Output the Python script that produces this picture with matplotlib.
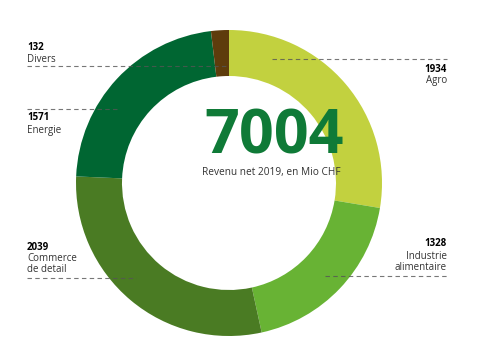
import matplotlib
matplotlib.use("Agg")
import matplotlib.pyplot as plt

categories = ["Agro", "Industrie alimentaire", "Commerce de detail", "Energie", "Divers"]
labels = ["Agro", "Industrie\nalimentaire", "Commerce\nde detail", "Energie", "Divers"]
values = [1934, 1328, 2039, 1571, 132]
colors = ["#c2d13f", "#68b334", "#4a7b23", "#006632", "#5e3c0c"]
total_text = "7004"
subtitle = "Revenu net 2019, en Mio CHF"

W, H = 479, 346
fig = plt.figure(figsize=(W / 100, H / 100), dpi=100)
ax = fig.add_axes([0, 0, 1, 1])
plt.rcParams['font.family'] = ['Open Sans', 'DejaVu Sans']

cx, cy, R = 229, H - 183, 153
ax.pie(values, colors=colors, center=(cx, cy), radius=R, startangle=90,
       counterclock=False, wedgeprops=dict(width=46, linewidth=0))
ax.set_xlim(0, W)
ax.set_ylim(0, H)
ax.set_aspect('equal')
ax.axis('off')

def Y(y):
    return H - y

dash = dict(color="#555555", lw=0.8, ls=(0, (4, 3)), zorder=5, alpha=0.8)
fs = 7
# Divers
ax.text(27, Y(47), str(values[4]), fontsize=fs, fontweight='bold', va='center', ha='left')
ax.text(27, Y(59), labels[4], fontsize=fs, va='center', ha='left', color="#333333")
ax.plot([27, 228], [Y(66), Y(66)], **dash)
# Energie
ax.plot([27, 120], [Y(109), Y(109)], **dash)
ax.text(27, Y(118), str(values[3]), fontsize=fs, fontweight='bold', va='center', ha='left')
ax.text(27, Y(130), labels[3], fontsize=fs, va='center', ha='left', color="#333333")
# Commerce
ax.text(27, Y(247), str(values[2]), fontsize=fs, fontweight='bold', va='center', ha='left')
ax.text(27, Y(264), labels[2], fontsize=fs, va='center', ha='left', color="#333333", linespacing=1.0)
ax.plot([27, 136], [Y(278), Y(278)], **dash)
# Agro
ax.plot([272, 447], [Y(59), Y(59)], **dash)
ax.text(447, Y(69), str(values[0]), fontsize=fs, fontweight='bold', va='center', ha='right')
ax.text(447, Y(81), labels[0], fontsize=fs, va='center', ha='right', color="#333333")
# Industrie
ax.text(447, Y(243), str(values[1]), fontsize=fs, fontweight='bold', va='center', ha='right')
ax.text(447, Y(262), labels[1], fontsize=fs, va='center', ha='right', color="#333333", linespacing=1.0)
ax.plot([325, 447], [Y(276), Y(276)], **dash)

ax.text(274, Y(154), total_text, fontsize=44, fontweight='bold', color="#0f7a37",
        ha='center', va='baseline', zorder=6)
ax.text(202, Y(173), subtitle, fontsize=7.3, color="#333333", ha='left', va='center', zorder=6)

fig.savefig("out.png", dpi=100)
